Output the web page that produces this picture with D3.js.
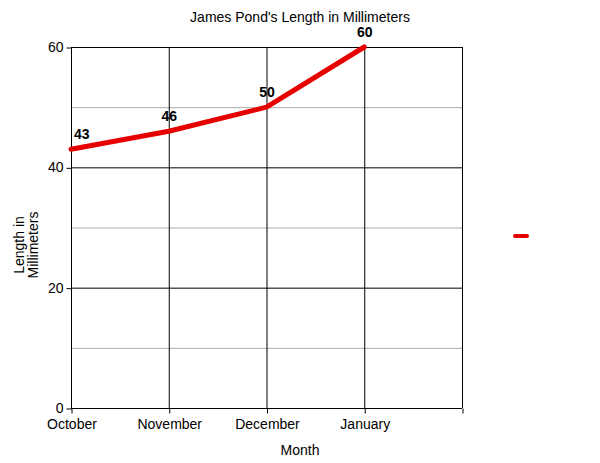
<!DOCTYPE html>
<html>
<head>
<meta charset="utf-8">
<script src="https://cdn.jsdelivr.net/npm/d3@7"></script>
<style>
  body { margin: 0; background: #fff; }
  text { font-family: "Liberation Sans", Arial, sans-serif; }
</style>
</head>
<body>
<div id="chart"></div>
<script>
// data
const months = ["October", "November", "December", "January"];
const lengths = [43, 46, 50, 60];
const yTicks = [0, 20, 40, 60];
const yMinor = [10, 30, 50];

const margin = { top: 47, right: 138, bottom: 55, left: 71 },
  width = 600 - margin.left - margin.right,
  height = 463 - margin.top - margin.bottom;

const svg = d3.select("#chart")
  .append("svg")
    .attr("width", 600)
    .attr("height", 463);

const g = svg.append("g")
  .attr("transform", `translate(${margin.left},${margin.top})`);

// x: one slot per month plus an empty slot at the end
const x = d3.scalePoint()
  .domain(months.concat([""]))
  .range([0, width]);

const y = d3.scaleLinear()
  .domain([0, 60])
  .range([height, 0]);

// minor gridlines
g.append("g")
  .selectAll("line")
  .data(yMinor)
  .join("line")
    .attr("x1", 0)
    .attr("x2", width)
    .attr("y1", d => y(d) + 0.5)
    .attr("y2", d => y(d) + 0.5)
    .attr("stroke", "#aaa")
    .attr("stroke-width", 1);

// major gridlines
g.append("g")
  .selectAll("line")
  .data(yTicks)
  .join("line")
    .attr("x1", 0)
    .attr("x2", width)
    .attr("y1", d => y(d) + 0.5)
    .attr("y2", d => y(d) + 0.5)
    .attr("stroke", "#000");

g.append("g")
  .selectAll("line")
  .data(x.domain())
  .join("line")
    .attr("x1", d => x(d) + 0.5)
    .attr("x2", d => x(d) + 0.5)
    .attr("y1", 0)
    .attr("y2", height)
    .attr("stroke", "#000");

// axes
const yAxis = g.append("g")
  .attr("transform", "translate(0.5,0)")
  .call(d3.axisLeft(y).tickValues(yTicks).tickSize(5).tickPadding(3));
yAxis.select(".domain").remove();
yAxis.selectAll("line").attr("transform", "translate(0,0.5)");
yAxis.selectAll("text")
  .style("font-size", "14px")
  .style("font-family", "Liberation Sans, Arial, sans-serif")
  .attr("fill", "#000");

const xAxis = g.append("g")
  .attr("transform", `translate(0.5,${height + 0.5})`)
  .call(d3.axisBottom(x).tickSize(5).tickPadding(6));
xAxis.select(".domain").remove();
xAxis.selectAll("text")
  .style("font-size", "14px")
  .style("font-family", "Liberation Sans, Arial, sans-serif")
  .attr("fill", "#000");

// line
const line = d3.line()
  .x((d, i) => x(months[i]))
  .y(d => y(d));

g.append("path")
  .datum(lengths)
  .attr("fill", "none")
  .attr("stroke", "#e60000")
  .attr("stroke-width", 5)
  .attr("stroke-linejoin", "round")
  .attr("stroke-linecap", "round")
  .attr("d", line);

// value labels
g.append("g")
  .selectAll("text")
  .data(lengths)
  .join("text")
    .attr("x", (d, i) => i === 0 ? x(months[i]) + 3 : x(months[i]) + 0.5)
    .attr("y", d => y(d) - 10)
    .attr("text-anchor", (d, i) => i === 0 ? "start" : "middle")
    .style("font-size", "14px")
    .style("font-weight", "bold")
    .text(d => d);

// title
svg.append("text")
  .attr("x", 300)
  .attr("y", 22)
  .attr("text-anchor", "middle")
  .style("font-size", "14px")
  .text("James Pond's Length in Millimeters");

// x title
svg.append("text")
  .attr("x", 300)
  .attr("y", 455)
  .attr("text-anchor", "middle")
  .style("font-size", "14px")
  .text("Month");

// y title
const yt = svg.append("text")
  .attr("transform", "translate(24,245) rotate(-90)")
  .attr("text-anchor", "middle")
  .style("font-size", "14px");
yt.append("tspan").attr("x", 0).attr("y", 0).text("Length in");
yt.append("tspan").attr("x", 0).attr("y", 14).text("Millimeters");

// legend marker
svg.append("line")
  .attr("x1", 515)
  .attr("x2", 527)
  .attr("y1", 236)
  .attr("y2", 236)
  .attr("stroke", "#e60000")
  .attr("stroke-width", 4)
  .attr("stroke-linecap", "round");
</script>
</body>
</html>
